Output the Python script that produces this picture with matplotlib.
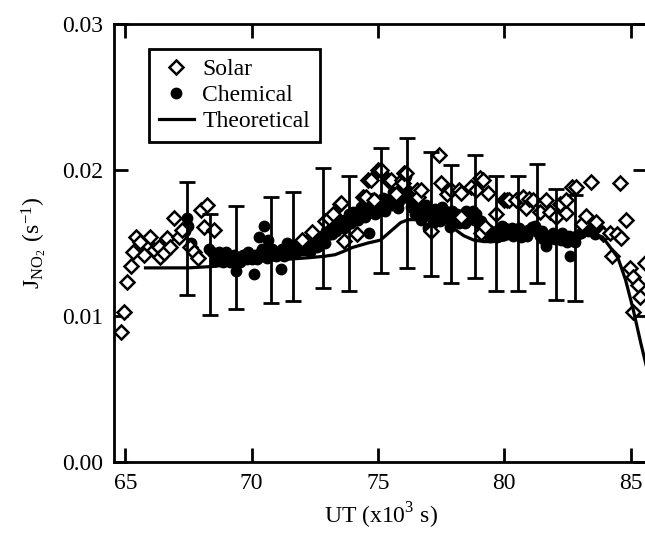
import matplotlib
matplotlib.use("Agg")
import matplotlib.pyplot as plt
import numpy as np

# solar radiometer J(NO2)
solar_x = [64.85, 64.94, 65.06, 65.23, 65.3, 65.44, 65.6, 65.73, 65.96, 66.12, 66.32, 66.39, 66.52,
           66.65, 66.79, 66.92, 67.12, 67.25, 67.58, 67.71, 67.87, 67.98, 68.24, 68.11, 68.5,
           72.0, 72.4, 72.89, 73.07, 73.21, 73.5, 73.53, 73.66, 74.18, 74.43, 74.52, 74.59, 74.72,
           74.85, 75.0, 75.12, 75.4, 75.52, 75.72, 75.96, 75.98, 76.04, 76.13, 76.53, 76.57, 76.71,
           77.1, 77.42, 77.5, 77.74, 77.9, 78.23, 78.29, 78.29, 78.69, 78.88, 79.04, 79.09, 79.15,
           79.22, 79.35, 79.69, 80.01, 80.13, 80.2, 80.48, 80.74, 80.87, 80.98, 81.13, 81.4, 81.67,
           81.8, 82.04, 82.2, 82.43, 82.46, 82.69, 82.86, 83.09, 83.25, 83.45, 83.65, 83.9, 84.18,
           84.25, 84.46, 84.58, 84.64, 84.82, 84.98, 85.1, 85.1, 85.3, 85.37, 85.56]
solar_y = [0.0089, 0.0103, 0.01235, 0.01342, 0.0144, 0.01539, 0.0151, 0.01418, 0.01539, 0.01452,
           0.01475, 0.01406, 0.01429, 0.01532, 0.01475, 0.01669, 0.01543, 0.01589, 0.01475, 0.0144,
           0.01395, 0.01726, 0.0176, 0.01612, 0.01589,
           0.0152, 0.01577, 0.01653, 0.01669, 0.0170, 0.01769, 0.01771, 0.01514, 0.0156, 0.01816,
           0.01817, 0.01932, 0.0193, 0.01795, 0.0200, 0.0200, 0.0193, 0.01932, 0.01839, 0.01932,
           0.01909, 0.01977, 0.01978, 0.01862, 0.01817, 0.01863, 0.01583, 0.02106, 0.01909, 0.01839,
           0.01863, 0.01862, 0.0184, 0.0168, 0.01886, 0.01862, 0.01943, 0.01566, 0.01932, 0.01612,
           0.0184, 0.0170, 0.01792, 0.01795, 0.01795, 0.01795, 0.01816, 0.01737, 0.01804, 0.01795,
           0.01715, 0.01795, 0.01715, 0.01676, 0.01769, 0.01703, 0.01795, 0.01885, 0.01886, 0.0163,
           0.01683, 0.0192, 0.01646, 0.0156, 0.01566, 0.01411, 0.0156, 0.01909, 0.01532, 0.01656,
           0.01327, 0.01269, 0.0103, 0.01212, 0.01132, 0.01361]

# chemical actinometer J(NO2)
chem_x = [67.35, 67.45, 67.5, 67.6, 68.3, 68.45, 68.6, 68.75, 68.9, 69.05, 69.2, 69.35, 69.4, 69.5,
          69.65, 69.8, 69.95, 70.1, 70.15, 70.3, 70.35, 70.5, 70.55, 70.65, 70.7, 70.85, 71.0, 71.15,
          71.2, 71.35, 71.45, 71.6, 71.7, 71.85, 72.0, 72.1, 72.25, 72.35, 72.5, 72.65, 72.8, 72.95,
          73.1, 73.25, 73.4, 73.55, 73.7, 73.85, 73.95, 74.1, 74.25, 74.4, 74.55, 74.65, 74.75, 74.9,
          75.0, 75.15, 75.3, 75.45, 75.55, 75.7, 75.85, 76.0, 76.1, 76.2, 76.3, 76.45, 76.6, 76.7,
          76.85, 77.0, 77.1, 77.25, 77.4, 77.55, 77.7, 77.85, 78.0, 78.15, 78.3, 78.45, 78.6, 78.75,
          78.9, 79.0, 79.15, 79.3, 79.45, 79.6, 79.75, 79.9, 80.05, 80.2, 80.35, 80.5, 80.65, 80.8,
          80.95, 81.1, 81.25, 81.4, 81.55, 81.65, 81.8, 81.95, 82.1, 82.25, 82.4, 82.5, 82.6, 82.7,
          82.85, 83.05, 83.3, 83.6,
          68.55, 68.7, 68.85, 69.0, 69.15, 69.3, 69.55, 69.7, 69.85, 70.0, 70.2, 70.4, 70.6, 70.8,
          70.95, 71.1, 71.3, 71.4, 71.55, 71.75, 71.9, 72.05, 72.2, 72.3, 72.45, 72.6, 72.75, 72.9,
          73.05, 73.2, 73.35, 73.5, 73.65, 73.8, 74.0, 74.2, 74.35, 74.5, 74.8, 75.05, 75.2, 75.35,
          75.6, 75.8, 75.95, 76.15, 76.35, 76.5, 76.9, 77.2, 77.45, 77.65, 77.95, 78.2, 78.5, 78.8,
          79.1, 79.4, 79.7, 80.0, 80.3, 80.6, 80.9, 81.2, 81.5, 81.75, 82.0, 82.3, 82.55, 82.8,
          83.45, 83.8, 84.0]
chem_y = [0.0158, 0.0167, 0.0162, 0.0150, 0.0146, 0.0144, 0.0141, 0.0140, 0.0142, 0.0141, 0.0139,
          0.0136, 0.0131, 0.0140, 0.0142, 0.0139, 0.0141, 0.0129, 0.0142, 0.0154, 0.0143, 0.0162,
          0.0145, 0.0152, 0.0141, 0.0143, 0.0144, 0.0132, 0.0146, 0.0145, 0.0148, 0.0144, 0.0149,
          0.0146, 0.0150, 0.0147, 0.0152, 0.0149, 0.0153, 0.0151, 0.0155, 0.0158, 0.0156, 0.0160,
          0.0163, 0.0161, 0.0166, 0.0170, 0.0164, 0.0168, 0.0172, 0.0170, 0.0174, 0.0157, 0.0176,
          0.0170, 0.0178, 0.0175, 0.0172, 0.0180, 0.0176, 0.0183, 0.0179, 0.0185, 0.0196, 0.0181,
          0.0175, 0.0170, 0.0178, 0.0166, 0.0172, 0.0160, 0.0168, 0.0173, 0.0170, 0.0175, 0.0168,
          0.0161, 0.0166, 0.0170, 0.0167, 0.0164, 0.0168, 0.0172, 0.0170, 0.0164, 0.0160, 0.0156,
          0.0154, 0.0157, 0.0159, 0.0162, 0.0160, 0.0158, 0.0155, 0.0157, 0.0154, 0.0156, 0.0159,
          0.0161, 0.0158, 0.0155, 0.0153, 0.0148, 0.0155, 0.0157, 0.0154, 0.0152, 0.0155, 0.0151,
          0.0141, 0.0153, 0.0155, 0.0157, 0.0158, 0.0156,
          0.0138, 0.0144, 0.0137, 0.0144, 0.0137, 0.0142, 0.0137, 0.0139, 0.0144, 0.0139, 0.0139,
          0.0146, 0.0140, 0.0146, 0.0141, 0.0143, 0.0141, 0.0150, 0.0147, 0.0143, 0.0149, 0.0145,
          0.0148, 0.0144, 0.0150, 0.0147, 0.0152, 0.0150, 0.0161, 0.0156, 0.0158, 0.0166, 0.0160,
          0.0163, 0.0171, 0.0166, 0.0175, 0.0168, 0.0181, 0.0172, 0.0181, 0.0177, 0.0185, 0.0174,
          0.0190, 0.0186, 0.0180, 0.0174, 0.0176, 0.0164, 0.0165, 0.0172, 0.0172, 0.0164, 0.0172,
          0.0166, 0.0165, 0.0159, 0.0154, 0.0156, 0.0160, 0.0160, 0.0155, 0.0162, 0.0158, 0.0152,
          0.0153, 0.0157, 0.0155, 0.0151, 0.0160, 0.0159, 0.0156]

# averaged chemical values with error bars
bar_x = [67.43, 68.35, 69.40, 70.78, 71.62, 72.81, 73.86, 75.12, 76.17, 77.10, 77.91, 78.83,
         79.66, 80.55, 81.30, 82.05, 82.80]
bar_y = [0.01534, 0.01352, 0.01398, 0.01454, 0.01477, 0.01602, 0.01565, 0.01723, 0.01773, 0.01701,
         0.0163, 0.01682, 0.01568, 0.01568, 0.01633, 0.0149, 0.01468]
bar_err = [0.00387, 0.00344, 0.00353, 0.00363, 0.00374, 0.00409, 0.00395, 0.00425, 0.00445,
           0.00424, 0.00406, 0.00424, 0.00393, 0.00393, 0.00407, 0.0038, 0.00362]

# model calculation
theo_x = [65.8, 66.5, 67.5, 68.5, 69.5, 70.5, 71.5, 72.3, 72.9, 73.3, 73.6, 74.0, 74.6, 75.1, 75.5,
          75.9, 76.2, 76.6, 77.0, 77.3, 77.6, 78.0, 78.4, 78.8, 79.2, 79.6, 80.0, 80.5, 81.0, 81.5,
          82.0, 82.5, 83.0, 83.5, 83.9, 84.2, 84.5, 84.8, 85.1, 85.4, 85.65]
theo_y = [0.0133, 0.0133, 0.0133, 0.0134, 0.0136, 0.0138, 0.0139, 0.0140, 0.0141, 0.0142, 0.0144,
          0.0147, 0.0150, 0.0152, 0.0158, 0.0164, 0.0166, 0.0166, 0.0167, 0.0169, 0.0166, 0.0160,
          0.0155, 0.0152, 0.0151, 0.0151, 0.0152, 0.0155, 0.0157, 0.0158, 0.0157, 0.0155, 0.0156,
          0.0157, 0.0154, 0.0147, 0.0140, 0.0125, 0.0105, 0.0082, 0.0064]

plt.rcParams['font.family'] = ['Liberation Serif', 'DejaVu Serif']
plt.rcParams['mathtext.fontset'] = 'custom'
plt.rcParams['mathtext.rm'] = 'Liberation Serif'
plt.rcParams['font.size'] = 17

fig = plt.figure(figsize=(6.45, 5.33), dpi=100)
ax = fig.add_axes([0.177, 0.133, 0.826, 0.822])

ax.plot(chem_x, chem_y, 'o', color='black', markersize=7.5, label='Chemical', zorder=2)
ax.plot(solar_x, solar_y, 'D', markerfacecolor='white', markeredgecolor='black',
        markersize=7.5, markeredgewidth=1.8, label='Solar', zorder=3)
ax.errorbar(bar_x, bar_y, yerr=bar_err, fmt='none', ecolor='black', elinewidth=2,
            capsize=6, capthick=2, zorder=4)
ax.plot(theo_x, theo_y, '-', color='black', linewidth=2.3, label='Theoretical', zorder=5)

ax.set_xlim(64.56, 85.65)
ax.set_ylim(0, 0.03)
ax.set_xticks([65, 70, 75, 80, 85])
ax.set_yticks([0.0, 0.01, 0.02, 0.03])
ax.set_yticklabels(['0.00', '0.01', '0.02', '0.03'])
ax.tick_params(direction='in', length=10, width=2, top=True, right=True, pad=8)
for s in ax.spines.values():
    s.set_linewidth(2)

ax.set_xlabel(r'UT (x10$^{3}$ s)', labelpad=5)
ax.set_ylabel(r'$\mathregular{J_{NO_2}\ (s^{-1})}$', labelpad=10)

h, l = ax.get_legend_handles_labels()
order = [1, 0, 2]
leg = ax.legend([h[i] for i in order], [l[i] for i in order], loc='upper left',
                bbox_to_anchor=(0.066, 0.943), borderaxespad=0, fancybox=False,
                edgecolor='black', framealpha=1, handlelength=1.5, handletextpad=0.35,
                labelspacing=0.2, borderpad=0.4)
leg.get_frame().set_linewidth(2)

fig.savefig('out.png', dpi=100)
